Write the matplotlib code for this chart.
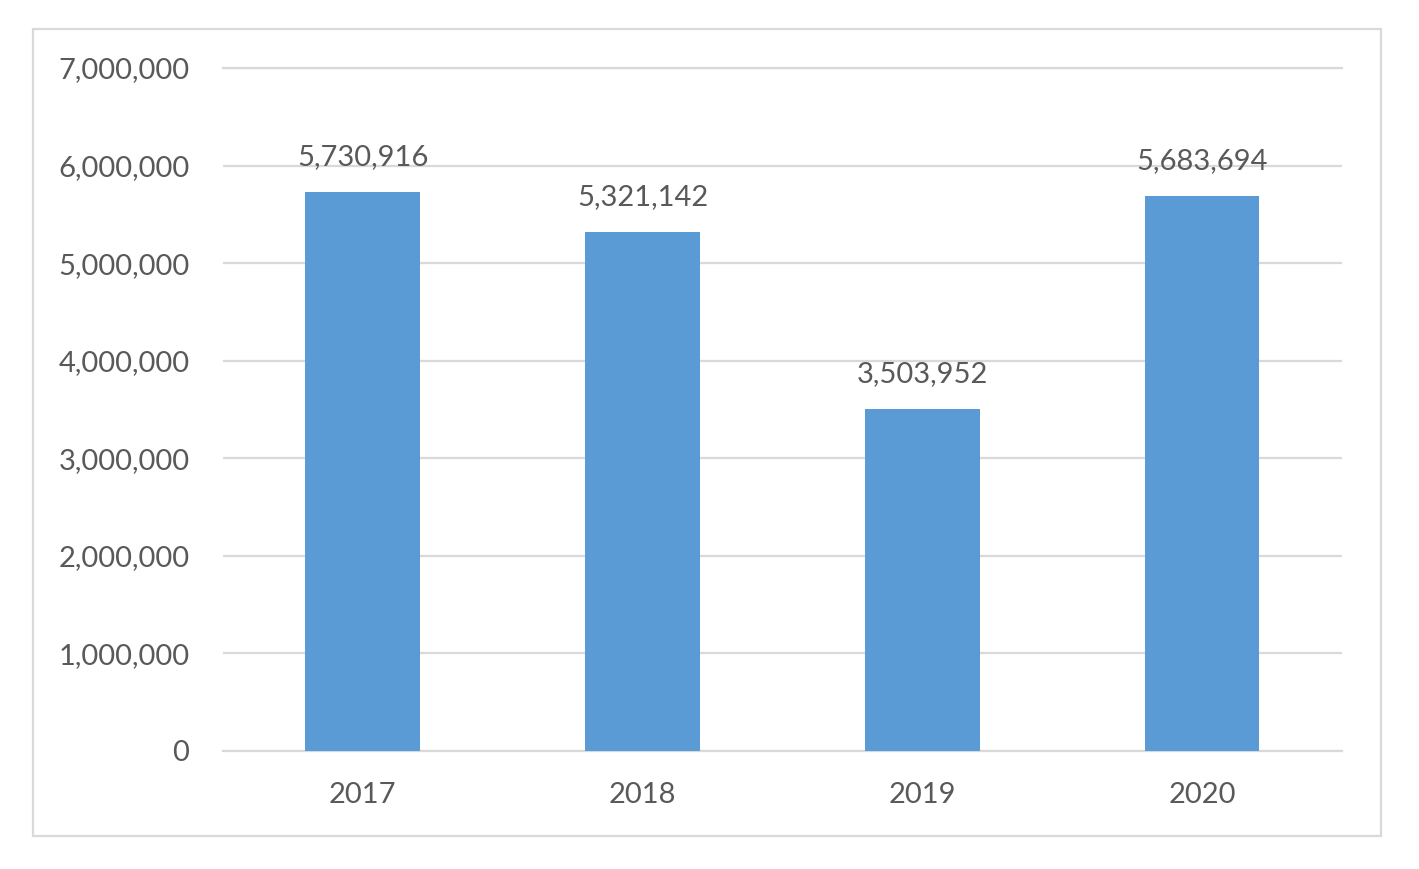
import matplotlib.pyplot as plt
from matplotlib.patches import Rectangle
from matplotlib.ticker import FuncFormatter

years = ["2017", "2018", "2019", "2020"]
values = [5730916, 5321142, 3503952, 5683694]
y_ticks = [0, 1000000, 2000000, 3000000, 4000000, 5000000, 6000000, 7000000]

bar_colour = "#5B9BD5"
text_colour = "#595959"
grid_colour = "#D9D9D9"

plt.rcParams["font.family"] = ["Lato", "DejaVu Sans"]

fig = plt.figure(figsize=(14.19, 8.69), dpi=100)
ax = fig.add_axes([0.157, 0.1358, 0.7887, 0.7859])

# Outer chart border
fig.patches.append(
    Rectangle(
        (0.0233, 0.038), 0.95, 0.9286,
        transform=fig.transFigure, fill=False,
        edgecolor=grid_colour, linewidth=1.6,
    )
)

x = range(len(years))
bars = ax.bar(x, values, width=0.41, color=bar_colour, zorder=2)

# Value labels over the bars
for b, v in zip(bars, values):
    ax.annotate(
        f"{v:,}",
        (b.get_x() + b.get_width() / 2, v),
        xytext=(0, 16), textcoords="offset points",
        ha="center", va="bottom", fontsize=21, color=text_colour,
    )

ax.set_xlim(-0.5, len(years) - 0.5)
ax.set_ylim(0, 7000000)
ax.set_xticks(list(x))
ax.set_xticklabels(years)
ax.set_yticks(y_ticks)
ax.yaxis.set_major_formatter(FuncFormatter(lambda v, _: f"{int(v):,}"))

ax.grid(axis="y", color=grid_colour, linewidth=1.6, zorder=0)
ax.set_axisbelow(True)
for s in ax.spines.values():
    s.set_visible(False)
# Top gridline at 7,000,000 sits on the axes edge
ax.axhline(7000000, color=grid_colour, linewidth=1.6, clip_on=False, zorder=0)
ax.axhline(0, color=grid_colour, linewidth=1.6, clip_on=False, zorder=1)

ax.tick_params(axis="both", length=0, labelsize=21, labelcolor=text_colour)
ax.tick_params(axis="x", pad=22)
ax.tick_params(axis="y", pad=24)

fig.savefig("out.png", dpi=100)
